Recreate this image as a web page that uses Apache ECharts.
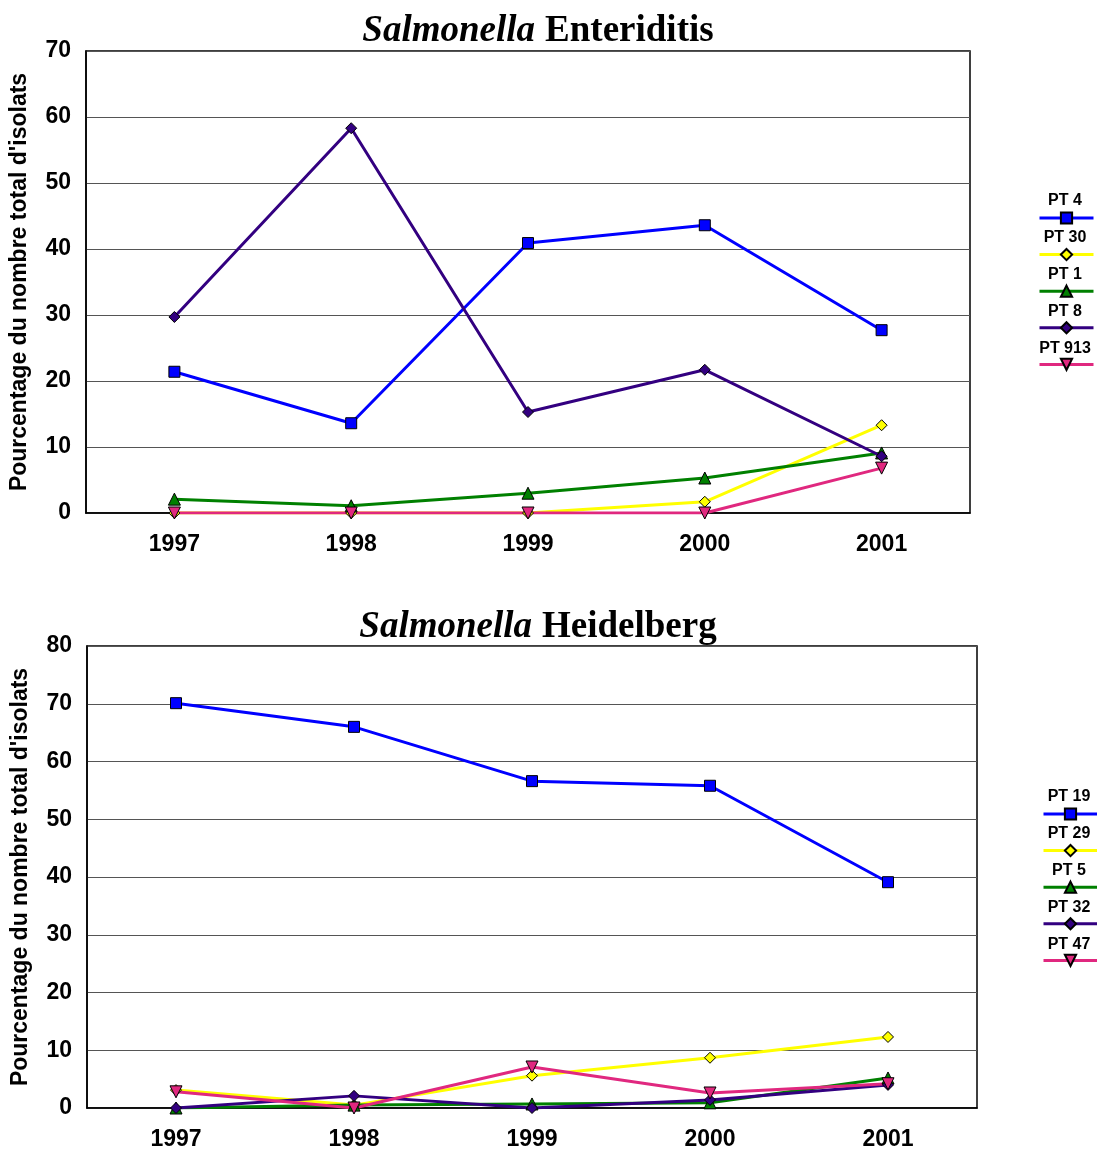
<!DOCTYPE html>
<html><head><meta charset="utf-8">
<script src="https://cdn.jsdelivr.net/npm/echarts@6/dist/echarts.min.js"></script>
<style>html,body{margin:0;padding:0;background:#fff}#c{width:1097px;height:1151px}</style>
</head><body><div id="c"></div>
<script>
const years = ['1997','1998','1999','2000','2001'];
// Salmonella Enteriditis
const seNames = ['PT 4','PT 30','PT 1','PT 8','PT 913'];
const sePT4   = [21.4, 13.6, 40.9, 43.6, 27.7];
const sePT30  = [0, 0, 0, 1.7, 13.3];
const sePT1   = [2.1, 1.1, 3.0, 5.3, 9.1];
const sePT8   = [29.7, 58.3, 15.3, 21.7, 8.6];
const sePT913 = [0, 0, 0, 0, 6.8];
// Salmonella Heidelberg
const shNames = ['PT 19','PT 29','PT 5','PT 32','PT 47'];
const shPT19 = [70.1, 66.0, 56.6, 55.8, 39.1];
const shPT29 = [3.1, 0.5, 5.6, 8.7, 12.3];
const shPT5  = [0, 0.5, 0.7, 0.9, 5.2];
const shPT32 = [0, 2.1, 0, 1.4, 4.0];
const shPT47 = [2.8, 0, 7.1, 2.6, 4.2];
const yTitle = "Pourcentage du nombre total d'isolats";

const colors = ['#0000FF','#FFFF00','#008000','#330080','#E0287F'];
const symbols = ['rect','diamond','triangle','diamond','path://M0,0 L10,0 L5,10 Z'];
const symSizes = [11,11,12,11,12];

const chart = echarts.init(document.getElementById('c'));
function mkSeries(names, datas, gi){
  return names.map((n,i)=>({
    name:n, type:'line', xAxisIndex:gi, yAxisIndex:gi, data:datas[i],
    symbol:symbols[i], symbolSize:symSizes[i], showAllSymbol:true,
    lineStyle:{color:colors[i], width:3},
    itemStyle:{color:colors[i], borderColor:'#000', borderWidth:1},
    animation:false
  }));
}
const lbl = {fontFamily:'Arial, Liberation Sans', fontWeight:'bold', fontSize:23, color:'#000'};
function xA(gi){return {type:'category', gridIndex:gi, data:years, boundaryGap:true,
  axisLine:{lineStyle:{color:'#000',width:1.5}}, axisTick:{show:false},
  axisLabel:Object.assign({margin:20},lbl)};}
function yA(gi,max){return {type:'value', gridIndex:gi, min:0, max:max, interval:10,
  name:yTitle, nameLocation:'middle', nameGap:55, nameRotate:90,
  nameTextStyle:{fontFamily:'Arial, Liberation Sans', fontWeight:'bold', fontSize:23, color:'#000'},
  axisLine:{show:true, lineStyle:{color:'#000',width:1.5}}, axisTick:{show:false},
  splitLine:{lineStyle:{color:'#555',width:1}},
  axisLabel:Object.assign({margin:15},lbl)};}
const titleRich = {i:{fontFamily:'Liberation Serif, Times New Roman', fontStyle:'italic', fontWeight:'bold', fontSize:37, color:'#000'},
  b:{fontFamily:'Liberation Serif, Times New Roman', fontWeight:'bold', fontSize:37, color:'#000'}};
function legendTexts(names, cx, y0){
  return names.map((n,i)=>({type:'text', x:cx, y:y0+i*37, style:{text:n, textAlign:'center', textVerticalAlign:'middle', fill:'#000',
    font:'bold 16px Arial, Liberation Sans'}}));
}
chart.setOption({
  backgroundColor:'#fff',
  title:[
    {text:'{i|Salmonella}  {b|Enteriditis}', left:533, textAlign:'center', top:8, textStyle:{rich:titleRich}},
    {text:'{i|Salmonella}  {b|Heidelberg}', left:533, textAlign:'center', top:604, textStyle:{rich:titleRich}}
  ],
  grid:[
    {left:85, width:885, top:51, height:462, show:true, borderColor:'#000', borderWidth:1.5, backgroundColor:'#fff'},
    {left:87, width:890, top:646, height:462, show:true, borderColor:'#000', borderWidth:1.5, backgroundColor:'#fff'}
  ],
  xAxis:[xA(0), xA(1)],
  yAxis:[yA(0,70), yA(1,80)],
  legend:[
    {data:seNames, orient:'vertical', left:1038, top:211, padding:0, itemWidth:54, itemHeight:14, itemGap:23,
      formatter:()=>'', textStyle:{fontSize:1}, selectedMode:false, lineStyle:{width:3}},
    {data:shNames, orient:'vertical', left:1042, top:807, padding:0, itemWidth:54, itemHeight:14, itemGap:23,
      formatter:()=>'', textStyle:{fontSize:1}, selectedMode:false, lineStyle:{width:3}}
  ],
  graphic:[].concat(legendTexts(seNames, 1065, 201), legendTexts(shNames, 1069, 797)),
  series:[].concat(
    mkSeries(seNames,[sePT4,sePT30,sePT1,sePT8,sePT913],0),
    mkSeries(shNames,[shPT19,shPT29,shPT5,shPT32,shPT47],1)
  )
});
</script></body></html>
